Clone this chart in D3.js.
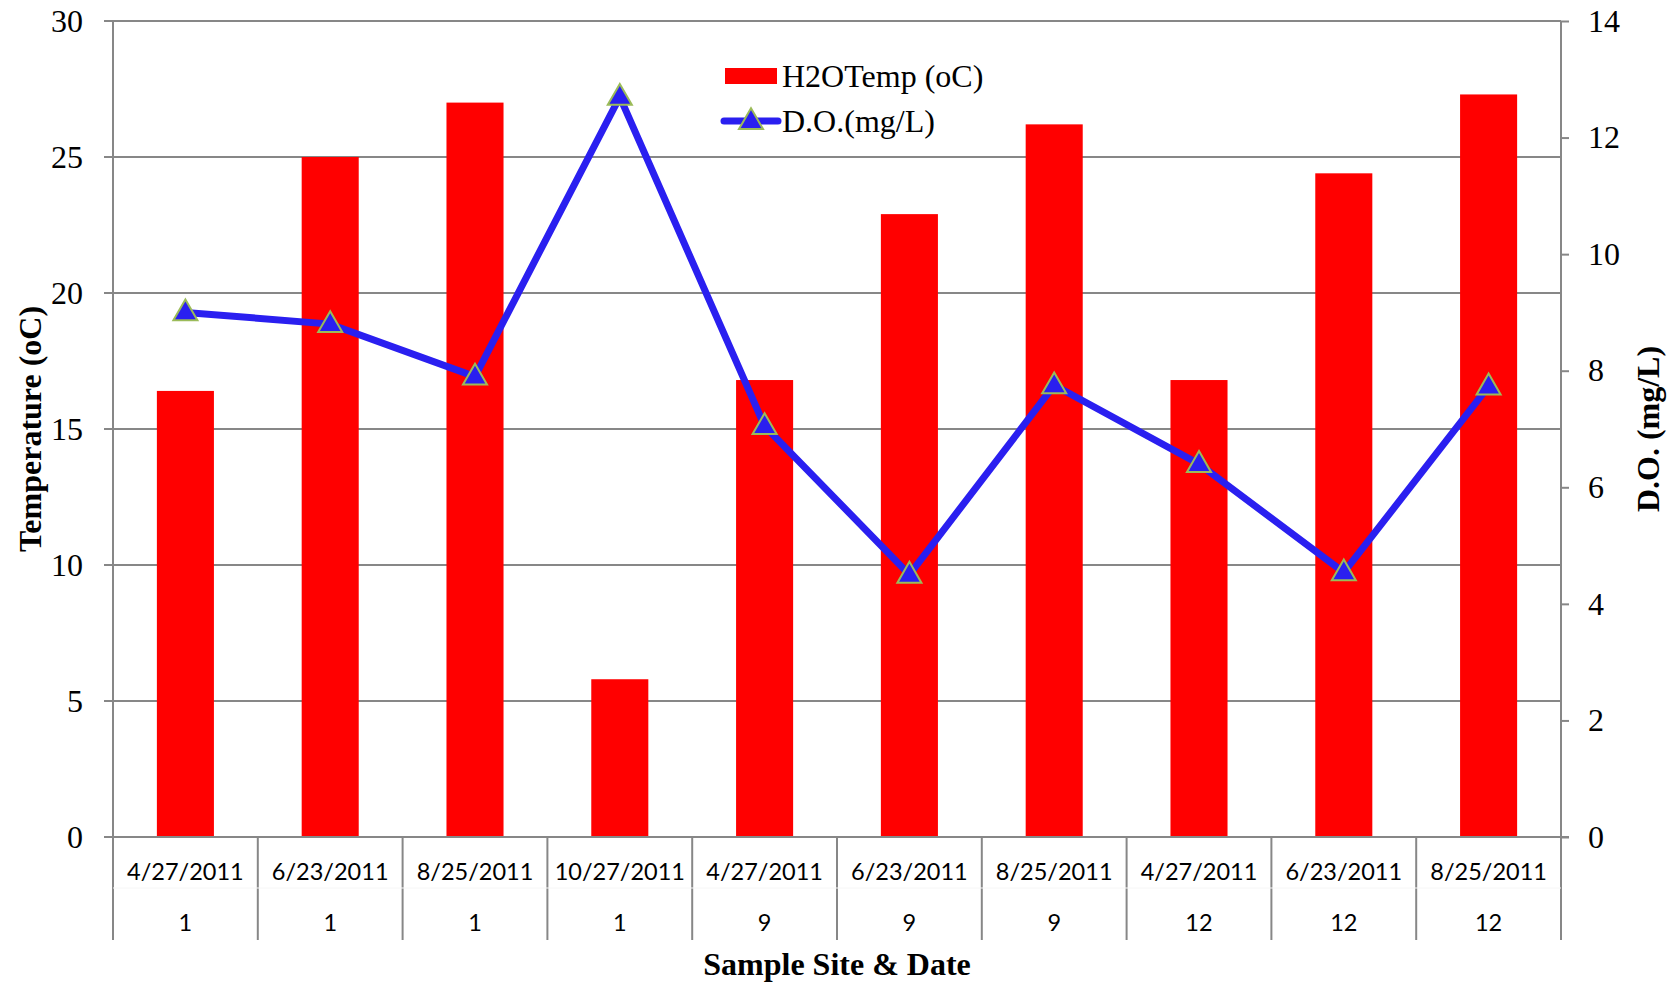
<!DOCTYPE html>
<html>
<head>
<meta charset="utf-8">
<script src="https://cdn.jsdelivr.net/npm/d3@7"></script>
<style>
  html, body { margin: 0; padding: 0; background: #fff; }
  svg { display: block; }
</style>
</head>
<body>
<svg id="chart" width="1667" height="982"></svg>
<script>
// ---- Data ----
const dates = ["4/27/2011", "6/23/2011", "8/25/2011", "10/27/2011", "4/27/2011", "6/23/2011", "8/25/2011", "4/27/2011", "6/23/2011", "8/25/2011"];
const sites = ["1", "1", "1", "1", "9", "9", "9", "12", "12", "12"];
const h2oTemp = [16.4, 25.0, 27.0, 5.8, 16.8, 22.9, 26.2, 16.8, 24.4, 27.3];
const dissolvedO2 = [9.0, 8.8, 7.9, 12.7, 7.05, 4.5, 7.75, 6.4, 4.54, 7.73];
const leftTicks = [0, 5, 10, 15, 20, 25, 30];
const rightTicks = [0, 2, 4, 6, 8, 10, 12, 14];
const seriesNames = ["H2OTemp (oC)", "D.O.(mg/L)"];
const axisTitles = { left: "Temperature (oC)", right: "D.O. (mg/L)", bottom: "Sample Site & Date" };

// ---- Layout ----
const W = 1667, H = 982;
const m = { top: 21, right: 106, bottom: 145, left: 113 };
const iw = W - m.left - m.right, ih = H - m.top - m.bottom;
const serif = "'Liberation Serif', 'Times New Roman', serif";
const sans = "Lato, 'Liberation Sans', sans-serif";
const gridCol = "#878787";
const barCol = "#ff0000";
const lineCol = "#2a1ff0";
const markerStroke = "#9bbb59";

const svg = d3.select("#chart");
const g = svg.append("g").attr("transform", `translate(${m.left},${m.top})`);

const idx = d3.range(dates.length);
const x = d3.scaleBand().domain(idx).range([0, iw]).padding(0);
const barW = x.step() * 0.394;
const yL = d3.scaleLinear().domain([0, 30]).range([ih, 0]);
const yR = d3.scaleLinear().domain([0, 14]).range([ih, 0]);

// gridlines
g.append("g").selectAll("line").data(leftTicks).join("line")
  .attr("x1", -9).attr("x2", iw)
  .attr("y1", d => yL(d)).attr("y2", d => yL(d))
  .attr("stroke", gridCol).attr("stroke-width", 2);

// left axis
const axL = g.append("g").call(d3.axisLeft(yL).tickValues(leftTicks).tickSize(9).tickPadding(21));
axL.select(".domain").remove();
axL.selectAll(".tick line").remove();
axL.selectAll("text").attr("font-family", serif).attr("font-size", 32).attr("fill", "#000");

// right axis
const axR = g.append("g").attr("transform", `translate(${iw},0)`)
  .call(d3.axisRight(yR).tickValues(rightTicks).tickSize(8).tickPadding(19));
axR.select(".domain").remove();
axR.selectAll(".tick line").attr("stroke", gridCol).attr("stroke-width", 2);
axR.selectAll("text").attr("font-family", serif).attr("font-size", 32).attr("fill", "#000");

// bars
g.append("g").selectAll("rect").data(idx).join("rect")
  .attr("x", i => x(i) + x.bandwidth() / 2 - barW / 2)
  .attr("width", barW)
  .attr("y", i => yL(h2oTemp[i]))
  .attr("height", i => yL(0) - yL(h2oTemp[i]))
  .attr("fill", barCol);

// category separators and axis lines
const sepBottom = ih + 103;
const bounds = idx.map(i => x(i)).concat([iw]);
g.append("g").selectAll("line").data(bounds).join("line")
  .attr("x1", d => d).attr("x2", d => d)
  .attr("y1", (d, i) => (i === 0 || i === bounds.length - 1) ? 0 : ih)
  .attr("y2", sepBottom)
  .attr("stroke", gridCol).attr("stroke-width", 2);
// faint row divider
g.append("line").attr("x1", 0).attr("x2", iw).attr("y1", ih + 51).attr("y2", ih + 51)
  .attr("stroke", "#f6f6f6").attr("stroke-width", 1);
// zero line
g.append("line").attr("x1", -9).attr("x2", iw + 8).attr("y1", yL(0)).attr("y2", yL(0))
  .attr("stroke", gridCol).attr("stroke-width", 2);

// category labels
const lab = g.append("g").attr("font-family", sans).attr("font-size", 23.5).attr("fill", "#000").attr("text-anchor", "middle");
lab.selectAll("text.date").data(idx).join("text").attr("class", "date")
  .attr("x", i => x(i) + x.bandwidth() / 2).attr("y", ih + 35).attr("dy", "0.35em")
  .text(i => dates[i]);
lab.selectAll("text.site").data(idx).join("text").attr("class", "site")
  .attr("x", i => x(i) + x.bandwidth() / 2).attr("y", ih + 86).attr("dy", "0.35em")
  .text(i => sites[i]);

// line series
const line = d3.line().x(i => x(i) + x.bandwidth() / 2).y(i => yR(dissolvedO2[i]));
g.append("path").datum(idx).attr("d", line)
  .attr("fill", "none").attr("stroke", lineCol).attr("stroke-width", 7)
  .attr("stroke-linejoin", "miter").attr("stroke-linecap", "round");

const tri = d3.symbol().type(d3.symbolTriangle).size(250);
g.append("g").selectAll("path").data(idx).join("path")
  .attr("transform", i => `translate(${x(i) + x.bandwidth() / 2},${yR(dissolvedO2[i]) + 1})`)
  .attr("d", tri)
  .attr("fill", lineCol).attr("stroke", markerStroke).attr("stroke-width", 2);

// legend
const lg = svg.append("g");
lg.append("rect").attr("x", 725).attr("y", 68).attr("width", 52).attr("height", 16).attr("fill", barCol);
lg.append("text").attr("x", 782).attr("y", 76).attr("dy", "0.35em")
  .attr("font-family", serif).attr("font-size", 32).text(seriesNames[0]);
lg.append("line").attr("x1", 724).attr("x2", 778).attr("y1", 121).attr("y2", 121)
  .attr("stroke", lineCol).attr("stroke-width", 7).attr("stroke-linecap", "round");
lg.append("path").attr("transform", "translate(751,122)").attr("d", tri)
  .attr("fill", lineCol).attr("stroke", markerStroke).attr("stroke-width", 2);
lg.append("text").attr("x", 782).attr("y", 121).attr("dy", "0.35em")
  .attr("font-family", serif).attr("font-size", 32).text(seriesNames[1]);

// axis titles
svg.append("text").attr("transform", `translate(30,${m.top + ih / 2}) rotate(-90)`)
  .attr("text-anchor", "middle").attr("dy", "0.35em")
  .attr("font-family", serif).attr("font-weight", "bold").attr("font-size", 32)
  .text(axisTitles.left);
svg.append("text").attr("transform", `translate(1648,${m.top + ih / 2}) rotate(-90)`)
  .attr("text-anchor", "middle").attr("dy", "0.35em")
  .attr("font-family", serif).attr("font-weight", "bold").attr("font-size", 32)
  .text(axisTitles.right);
svg.append("text").attr("x", m.left + iw / 2).attr("y", 964).attr("dy", "0.35em")
  .attr("text-anchor", "middle")
  .attr("font-family", serif).attr("font-weight", "bold").attr("font-size", 32)
  .text(axisTitles.bottom);
</script>
</body>
</html>
